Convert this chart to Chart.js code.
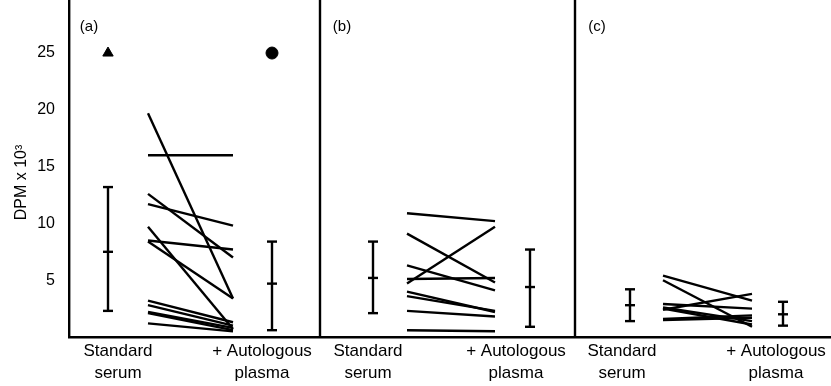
<!DOCTYPE html>
<html>
<head>
<meta charset="utf-8">
<script src="https://cdn.jsdelivr.net/npm/chart.js@4"></script>
<style>
  html, body { margin: 0; padding: 0; background: #fff; }
</style>
</head>
<body>
<canvas id="chart" width="831" height="386"></canvas>
<script>
// values, DPM x 10^3
const panelNames = ['(a)', '(b)', '(c)'];
const groupNames = [['Standard', 'serum'], ['+ Autologous', 'plasma']];
const yTicks = [5, 10, 15, 20, 25];

// paired values: standard serum -> + autologous plasma
const aSerum  = [19.7, 16.0, 12.6, 11.7, 9.7, 8.5, 8.4, 3.2, 2.8, 2.2, 2.1, 1.2];
const aPlasma = [3.4, 16.0, 7.0, 9.8, 0.7, 7.7, 3.4, 1.3, 1.0, 0.8, 0.6, 0.5];
const bSerum  = [10.9, 9.1, 4.7, 6.3, 5.1, 4.0, 3.6, 2.3, 0.6];
const bPlasma = [10.2, 4.8, 9.7, 4.1, 5.2, 2.2, 2.3, 1.8, 0.5];
const cSerum  = [5.4, 5.0, 2.4, 2.9, 2.6, 2.5, 1.6, 1.5];
const cPlasma = [3.2, 0.9, 3.8, 2.5, 1.4, 1.1, 1.9, 1.7];

// mean and range bars, one per panel
const serumMean  = [7.5, 5.2, 2.8];
const serumLow   = [2.3, 2.1, 1.4];
const serumHigh  = [13.2, 8.4, 4.2];
const plasmaMean = [4.7, 4.4, 2.0];
const plasmaLow  = [0.6, 0.9, 1.0];
const plasmaHigh = [8.4, 7.7, 3.1];

const symbolLevel = 25;

// layout on the x scale (0..762 across the plot)
const xMax = 762, yMax = 29.67;
const dividers = [251, 506];
const slots = [
  {bar1: 39,  from: 79,  to: 164, bar2: 203, lab1: 49,  lab2: 193, name: 20},
  {bar1: 304, from: 338, to: 426, bar2: 461, lab1: 299, lab2: 447, name: 273},
  {bar1: 561, from: 594, to: 683, bar2: 714, lab1: 553, lab2: 707, name: 528}
];
const FONT = '"Liberation Sans", Arial, sans-serif';
const LW = 2.4;

function seg(points){
  return {data: points, showLine: true, borderColor: '#000', borderWidth: LW, pointRadius: 0};
}
function rangeBar(x, lo, mid, hi){
  return [
    seg([{x: x, y: lo}, {x: x, y: hi}]),
    {data: [{x: x, y: lo}, {x: x, y: mid}, {x: x, y: hi}], pointStyle: 'line',
     pointRadius: 5, borderColor: '#000', borderWidth: LW}
  ];
}

const datasets = [];
[[aSerum, aPlasma], [bSerum, bPlasma], [cSerum, cPlasma]].forEach(([s, p], i) => {
  const sl = slots[i];
  s.forEach((v, j) => datasets.push(seg([{x: sl.from, y: v}, {x: sl.to, y: p[j]}])));
  datasets.push(...rangeBar(sl.bar1, serumLow[i], serumMean[i], serumHigh[i]));
  datasets.push(...rangeBar(sl.bar2, plasmaLow[i], plasmaMean[i], plasmaHigh[i]));
});
dividers.forEach(d => datasets.push(seg([{x: d, y: 0}, {x: d, y: yMax}])));
datasets.push({data: [{x: slots[0].bar1, y: symbolLevel}], pointStyle: 'triangle', pointRadius: 6,
  backgroundColor: '#000', borderColor: '#000', borderWidth: 1});
datasets.push({data: [{x: slots[0].bar2, y: symbolLevel}], pointStyle: 'circle', pointRadius: 6,
  backgroundColor: '#000', borderColor: '#000', borderWidth: 1});

const labelX = [];
slots.forEach(sl => labelX.push(sl.lab1, sl.lab2));

// panel letters and the y title
const annotate = {
  id: 'annotate',
  afterDraw(chart){
    const {ctx, scales: {x, y}} = chart;
    ctx.save();
    ctx.fillStyle = '#000';
    ctx.textAlign = 'center';
    ctx.textBaseline = 'middle';
    ctx.font = '15px ' + FONT;
    panelNames.forEach((t, i) => ctx.fillText(t, x.getPixelForValue(slots[i].name), y.getPixelForValue(27.3)));
    ctx.font = '16px ' + FONT;
    ctx.translate(22, y.getPixelForValue(13.6));
    ctx.rotate(-Math.PI / 2);
    ctx.fillText('DPM x 10\u00B3', 0, 0);
    ctx.restore();
  }
};

new Chart(document.getElementById('chart'), {
  type: 'scatter',
  data: {datasets: datasets},
  plugins: [annotate],
  options: {
    responsive: false,
    animation: false,
    layout: {padding: 0, autoPadding: false},
    plugins: {legend: {display: false}, tooltip: {enabled: false}},
    scales: {
      x: {
        type: 'linear', min: 0, max: xMax,
        grid: {display: false, drawTicks: false},
        border: {display: true, color: '#000', width: LW},
        afterBuildTicks: (scale) => { scale.ticks = labelX.map(v => ({value: v})); },
        afterFit: (scale) => { scale.height = 49; scale.paddingLeft = 0; scale.paddingRight = 0; },
        ticks: {
          autoSkip: false, maxRotation: 0, padding: 4, color: '#000',
          font: {family: FONT, size: 17, lineHeight: 1.25},
          callback: (v, i) => groupNames[i % 2]
        }
      },
      y: {
        type: 'linear', min: 0, max: yMax,
        grid: {display: false, drawTicks: false},
        border: {display: true, color: '#000', width: LW},
        afterBuildTicks: (scale) => { scale.ticks = yTicks.map(v => ({value: v})); },
        afterFit: (scale) => { scale.width = 69; scale.paddingTop = 0; scale.paddingBottom = 0; },
        ticks: {padding: 14, color: '#000', font: {family: FONT, size: 16}}
      }
    }
  }
});
</script>
</body>
</html>
